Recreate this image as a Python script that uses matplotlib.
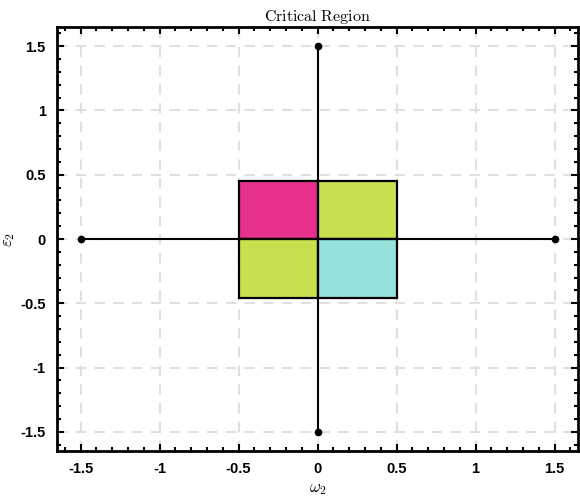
import matplotlib.pyplot as plt
from matplotlib.patches import Rectangle
from matplotlib.ticker import MultipleLocator

plt.rcParams['mathtext.fontset'] = 'cm'

# axis segments (endpoints)
h_x = [-1.5, 1.5]
h_y = [0, 0]
v_x = [0, 0]
v_y = [-1.5, 1.5]

# quadrant cells: (x0, y0, width, height, colour)
cell_x = [-0.5, 0.0, -0.5, 0.0]
cell_y = [0.0, 0.0, -0.455, -0.455]
cell_w = [0.5, 0.5, 0.5, 0.5]
cell_h = [0.455, 0.455, 0.455, 0.455]
cell_colors = ["#e8318a", "#c8e04e", "#c8e04e", "#94e0da"]

ticks = [-1.5, -1, -0.5, 0, 0.5, 1, 1.5]
tick_labels = ["-1.5", "-1", "-0.5", "0", "0.5", "1", "1.5"]

fig = plt.figure(figsize=(5.8, 4.98), dpi=100)
ax = fig.add_axes([0.098, 0.094, 0.899, 0.852])

for x0, y0, w, h, c in zip(cell_x, cell_y, cell_w, cell_h, cell_colors):
    ax.add_patch(Rectangle((x0, y0), w, h, facecolor=c, edgecolor="black",
                           linewidth=1.6, zorder=2))

ax.plot(h_x, h_y, color="black", lw=1.5, marker="o", ms=4.5, zorder=3)
ax.plot(v_x, v_y, color="black", lw=1.5, marker="o", ms=4.5, zorder=3)

ax.set_xlim(-1.65, 1.65)
ax.set_ylim(-1.65, 1.65)
ax.set_xticks(ticks)
ax.set_xticklabels(tick_labels)
ax.set_yticks(ticks)
ax.set_yticklabels(tick_labels)
ax.xaxis.set_minor_locator(MultipleLocator(0.1))
ax.yaxis.set_minor_locator(MultipleLocator(0.1))
ax.tick_params(which="both", direction="in", top=True, right=True, width=1.5)
ax.tick_params(which="major", length=5, pad=8)
ax.tick_params(which="minor", length=3)
for lab in ax.get_xticklabels() + ax.get_yticklabels():
    lab.set_fontfamily("Liberation Sans")
    lab.set_fontweight("bold")
    lab.set_fontsize(10.5)
for s in ax.spines.values():
    s.set_linewidth(2)

ax.grid(True, which="major", color="#e0e0e0", linestyle=(0, (5, 4)), lw=1.5, zorder=0)

ax.set_title(r"$\mathrm{Critical\ Region}$", fontsize=11.5, pad=4)
ax.set_xlabel(r"$\omega_2$", fontsize=12, labelpad=2)
ax.set_ylabel(r"$\varepsilon_2$", fontsize=12, labelpad=2)

fig.savefig("out.png", dpi=100)
